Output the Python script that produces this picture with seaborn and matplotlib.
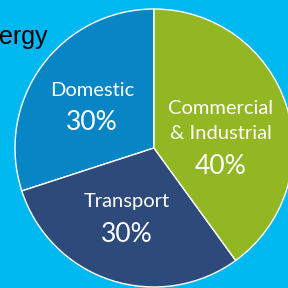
import matplotlib
matplotlib.use('Agg')
import matplotlib.pyplot as plt
import seaborn as sns

# Energy use by sector
sectors = ["Domestic", "Transport", "Commercial\n& Industrial"]
shares = [30, 30, 40]
share_labels = ["30%", "30%", "40%"]
colors = ["#0885C5", "#2E4A7B", "#93B723"]

sns.set_style("white")
plt.rcParams['font.family'] = ['Lato', 'DejaVu Sans']

fig = plt.figure(figsize=(2.88, 2.88), dpi=100)
fig.patch.set_facecolor("#00B8F0")
ax = fig.add_axes([0, 0, 1, 1])
ax.set_facecolor("#00B8F0")

# pie in pixel coordinates, partly cropped by the frame
cx, cy, r = 154, 140, 139
ax.pie(shares, colors=colors, startangle=90, counterclock=True,
       center=(cx, cy), radius=r, frame=True,
       wedgeprops=dict(edgecolor="white", linewidth=1))
ax.set_xlim(0, 288)
ax.set_ylim(0, 288)
ax.set_aspect("equal")
ax.axis("off")

# label positions (name, value) in pixels
pos = [(92, 198, 165), (127, 86, 54), (221, 167, 121)]
for name, val, (x, y1, y2) in zip(sectors, share_labels, pos):
    ax.text(x, y1, name, color="white", fontsize=14.5, ha="center",
            va="center", linespacing=1.55)
    ax.text(x, y2, val, color="white", fontsize=19, ha="center", va="center")

ax.text(-1, 244, "ergy", color="black", fontsize=18, ha="left", va="baseline",
        family=["Liberation Sans", "DejaVu Sans"])

fig.savefig("out.png", dpi=100, facecolor=fig.get_facecolor())
